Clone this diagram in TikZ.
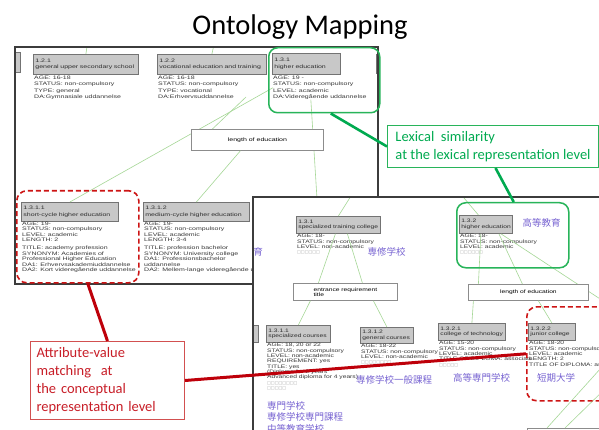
\documentclass[tikz,border=0pt]{standalone}
\usepackage{fontspec}
\usetikzlibrary{calc}
\newfontfamily\titlef{Carlito}
\newfontfamily\tinyf[FakeStretch=1.4]{Liberation Sans}
\newfontfamily\tinyg[FakeStretch=1.34]{Liberation Sans}
\newfontfamily\jpf{Noto Sans CJK JP}
\newfontfamily\symf{DejaVu Sans}
\newcommand\mya{\tinyf\fontsize{5}{6.3}\selectfont}
\newcommand\myb{\tinyf\fontsize{5}{5.5}\selectfont}
\newcommand\myc{\tinyg\fontsize{5}{5.3}\selectfont}
\newcommand\tofu[1]{{\symf\fontsize{4}{5}\selectfont\color{sqc}#1}}
\definecolor{lg}{RGB}{165,215,150}
\definecolor{hbf}{RGB}{200,200,200}
\definecolor{hbd}{RGB}{115,115,115}
\definecolor{hdt}{RGB}{45,45,45}
\definecolor{atc}{RGB}{55,55,55}
\definecolor{lbd}{RGB}{140,140,140}
\definecolor{jpc}{RGB}{120,100,210}
\definecolor{gbc}{RGB}{40,180,90}
\definecolor{gth}{RGB}{0,170,80}
\definecolor{rdc}{RGB}{205,20,20}
\definecolor{rth}{RGB}{190,0,10}
\definecolor{rtc}{RGB}{200,30,40}
\definecolor{rbd}{RGB}{210,80,80}
\definecolor{pbc}{RGB}{60,60,60}
\definecolor{sqc}{RGB}{160,160,160}
\begin{document}
\begin{tikzpicture}[x=1pt,y=-1pt,
  edge/.style={draw=lg, line width=0.6pt},
  hb/.style={draw=hbd, fill=hbf, line width=0.8pt, anchor=north west, inner xsep=2pt, inner ysep=0pt, align=left, text=hdt},
  attrs/.style={anchor=north west, inner sep=0pt, align=left, text=atc},
  lbox/.style={draw=lbd, fill=white, line width=0.8pt, anchor=north west, inner sep=0pt},
  jp/.style={text=jpc, font=\jpf\fontsize{9.5}{11.5}\selectfont, inner sep=0pt},
  gbox/.style={draw=gbc, line width=1.5pt, rounded corners=9pt, anchor=north west, inner sep=0pt},
  rbox/.style={draw=rdc, line width=1.6pt, dash pattern=on 5pt off 3pt, rounded corners=10pt, anchor=north west, inner sep=0pt},
  callg/.style={draw=gbc, fill=white, line width=1pt, anchor=north west, text=gth, align=left, font=\titlef\fontsize{14.5}{18}\selectfont, inner sep=0pt},
  callr/.style={draw=rbd, fill=white, line width=1pt, anchor=north west, text=rtc, align=left, font=\titlef\fontsize{14.5}{18}\selectfont, inner xsep=6pt, inner ysep=0pt},
  gthick/.style={draw=gth, line width=2.6pt},
  rthick/.style={draw=rth, line width=3pt},
  pb/.style={draw=pbc, line width=1.2pt}
]
\useasboundingbox (0,0) rectangle (599,430);
\clip (0,0) rectangle (599,430);

% title
\node[font=\titlef\fontsize{28.5}{30}\selectfont, anchor=base, inner sep=0pt] (title) at (300,35) {Ontology Mapping};

% ---------------- panel 1 ----------------
\fill[white] (15,47) rectangle (378,284);
\begin{scope}
\clip (15,47) rectangle (378,284);
\node[hb, minimum width=50pt, minimum height=20pt] (pl1) at (-30,52) {};
\node[hb, minimum width=40pt, minimum height=19pt] (pr1) at (376,54) {};
\node[hb, text width=101pt, minimum height=20pt, font=\mya] (n121) at (33,54) {1.2.1\\\mbox{general upper secondary school}};
\node[hb, text width=105pt, minimum height=20pt, font=\mya] (n122) at (157,54) {1.2.2\\\mbox{vocational education and training}};
\node[hb, text width=64pt, minimum height=21pt, font=\mya] (n131) at (272,53) {1.3.1\\\mbox{higher education}};
\node[attrs, font=\mya] (a121) at ($(n121.south west)+(1,1)$) {AGE: 16-18\\STATUS: non-compulsory\\TYPE: general\\DA:Gymnasiale uddannelse};
\node[attrs, font=\mya] (a122) at ($(n122.south west)+(1,1)$) {AGE: 16-18\\STATUS: non-compulsory\\TYPE: vocational\\DA:Erhvervsuddannelse};
\node[attrs, font=\mya] (a131) at ($(n131.south west)+(1,1)$) {AGE: 19 -\\STATUS: non-compulsory\\LEVEL: academic\\DA:Videregående uddannelse};
\node[hb, text width=93pt, minimum height=19pt, font=\mya] (n1311) at (21,202) {1.3.1.1\\\mbox{short-cycle higher education}};
\node[hb, text width=102pt, minimum height=19pt, font=\mya] (n1312) at (143,202) {1.3.1.2\\\mbox{medium-cycle higher education}};
\node[attrs, font=\myb] (a1311) at ($(n1311.south west)+(1,0)$) {AGE: 19-\\STATUS: non-compulsory\\LEVEL: academic\\LENGTH: 2\\[2.5pt]TITLE: academy profession\\SYNONYM: Academies of\\Professional Higher Education\\DA1: Erhvervsakademiuddannelse\\DA2: Kort videregående uddannelse};
\node[attrs, font=\myb] (a1312) at ($(n1312.south west)+(1,0)$) {AGE: 19-\\STATUS: non-compulsory\\LEVEL: academic\\LENGTH: 3-4\\[2.5pt]TITLE: profession bachelor\\SYNONYM: University college\\DA1: Professionsbachelor\\uddannelse\\DA2: Mellem-lange videregående uddannelse};
\coordinate (t121) at (88,40);
\coordinate (t122) at (215,40);
\coordinate (c122) at (246,97);
\coordinate (p2a) at (318,215);
\draw[edge] (t121) -- (n121.north);
\draw[edge] (t122) -- (n122.north);
\draw[edge] (a131.west) -- (n1311.north);
\draw[edge] ([xshift=-9pt]a131.south) -- (p2a);
\node[lbox, minimum width=132pt, minimum height=21pt, font=\mya] (len1) at (191,129) {length of education};
\draw[edge] (c122) -- ([xshift=-45pt]len1.north);
\draw[edge] ([xshift=-17pt]len1.south) -- (n1312.north);
\end{scope}
\draw[pb] (15,47) rectangle (378,284);

% ---------------- panel 2 ----------------
\fill[white] (253,197) rectangle (620,440);
\begin{scope}
\clip (253,197) rectangle (620,440);
\node[hb, minimum width=58pt, minimum height=17pt] (pl2) at (200,325) {};
\node[hb, text width=80pt, minimum height=17pt, font=\myc] (m131) at (296,216) {1.3.1\\\mbox{specialized training college}};
\node[hb, text width=49pt, minimum height=18pt, font=\myc] (m132) at (459,215) {1.3.2\\\mbox{higher education}};
\node[attrs, font=\myc] (b131) at ($(m131.south west)+(1,0.5)$) {AGE: 18-\\STATUS: non-compulsory\\LEVEL: non-academic\\\tofu{□□□□□□}};
\node[attrs, font=\myc] (b132) at ($(m132.south west)+(1,0.5)$) {AGE: 18-\\STATUS: non-compulsory\\LEVEL: academic\\\tofu{□□□□□□}};
\node[jp, anchor=east] (j0) at (263,252) {教育};
\node[jp] (j1) at (386.5,252) {専修学校};
\node[jp] (j2) at (541.5,223) {高等教育};
\node[lbox, minimum width=104pt, minimum height=17pt, align=left, font=\myc] (ent) at (293,283) {entrance requirement\\title};
\coordinate (u1) at (356,188);
\coordinate (u2) at (455.5,188);
\coordinate (u3) at (620,312);
\draw[edge] (u1) -- (m131.north);
\draw[edge] (u2) -- ([xshift=-7.5pt]m132.north);
\draw[edge] ([xshift=15pt]m132.south) -- (u3);
\node[lbox, minimum width=120pt, minimum height=16pt, font=\myc] (len2) at (468,284) {length of education};
\node[hb, text width=60pt, minimum height=17pt, font=\myc] (mm1311) at (266,325) {1.3.1.1\\\mbox{specialized courses}};
\node[hb, text width=49pt, minimum height=16pt, font=\myc] (mm1312) at (360,327) {1.3.1.2\\\mbox{general courses}};
\node[hb, text width=63pt, minimum height=17pt, font=\myc] (mm1321) at (438,323) {1.3.2.1\\\mbox{college of technology}};
\node[hb, text width=43pt, minimum height=17pt, font=\myc] (mm1322) at (528,323) {1.3.2.2\\\mbox{junior college}};
\node[lbox, minimum width=120pt, minimum height=30pt] (bb) at (527,428) {};
\node[attrs, font=\myc] (c1311) at ($(mm1311.south west)+(1,0.5)$) {AGE: 18, 20 or 22\\STATUS: non-compulsory\\LEVEL: non-academic\\REQUIREMENT: yes\\TITLE: yes\\(Diploma for 2 years\\Advanced diploma for 4 years)\\\tofu{□□□□□□□□}\\\tofu{□□□□□}};
\node[attrs, font=\myc] (c1312) at ($(mm1312.south west)+(1,0.5)$) {AGE: 18-22\\STATUS: non-compulsory\\LEVEL: non-academic\\\tofu{□□□□□□□□}};
\node[attrs, font=\myc] (c1321) at ($(mm1321.south west)+(1,0.5)$) {AGE: 15-20\\STATUS: non-compulsory\\LEVEL: academic\\TITLE OF DIPLOMA: associate\\\tofu{□□□□□}};
\node[attrs, font=\myc] (c1322) at ($(mm1322.south west)+(1,0.5)$) {AGE: 18-20\\STATUS: non-compulsory\\LEVEL: academic\\LENGTH: 2\\TITLE OF DIPLOMA: associate};
\node[jp, anchor=west] (j3) at (356,380) {専修学校一般課程};
\node[jp] (j4) at (481.5,378) {高等専門学校};
\node[jp] (j5) at (556,378) {短期大学};
\node[jp, anchor=north west, align=left] (j6) at (267,401) {専門学校\\専修学校専門課程\\中等教育学校};
\coordinate (u4) at (610,358);
\coordinate (u5) at (610,384);
\draw[edge] ([xshift=-3pt]m131.south) -- ([xshift=-27pt]ent.north);
\draw[edge] ([xshift=9pt]m131.south) -- ([xshift=17pt]ent.north);
\draw[edge] ([xshift=-35pt]ent.south) -- (mm1311.north);
\draw[edge] ([xshift=28pt]ent.south) -- (mm1312.north);
\draw[edge] ([xshift=-5pt]m132.south) -- ([xshift=-50pt]len2.north);
\draw[edge] ([xshift=13pt]m132.south) -- ([xshift=-6pt]len2.north);
\draw[edge] ([xshift=-55pt]len2.south) -- (mm1321.north);
\draw[edge] ([xshift=10pt]len2.south) -- (mm1322.north);
\draw[edge] (u4) -- ([xshift=20pt]bb.north west);
\draw[edge] (u5) -- ([xshift=38pt]bb.north west);
\end{scope}
\draw[draw=pbc, line width=1.5pt] (253,440) -- (253,197) -- (620,197);

% ---------------- annotations ----------------
\node[gbox, minimum width=111pt, minimum height=65pt] (gb1) at (268,47) {};
\node[gbox, minimum width=112pt, minimum height=65pt] (gb2) at (456,202) {};
\node[rbox, minimum width=122pt, minimum height=92pt] (rd1) at (16,190) {};
\node[rbox, minimum width=120pt, minimum height=94pt] (rd2) at (526,306) {};
\node[callg, minimum width=211pt, minimum height=42pt] (lex) at (387,125) {Lexical\ \ similarity\\at the lexical representation level};
\node[callr, text width=142pt, minimum height=78pt] (att) at (30,341) {Attribute-value\\matching\ \ at\\the conceptual\\representation level};
\draw[gthick] ([xshift=6.5pt]gb1.south) -- (lex.west);
\draw[gthick] ([xshift=2.5pt]lex.south) -- ([xshift=1pt]gb2.north);
\draw[rthick] (att.north) -- ([xshift=10pt]rd1.south);
\draw[rthick] (att.east) -- (rd2.west);
\end{tikzpicture}
\end{document}
